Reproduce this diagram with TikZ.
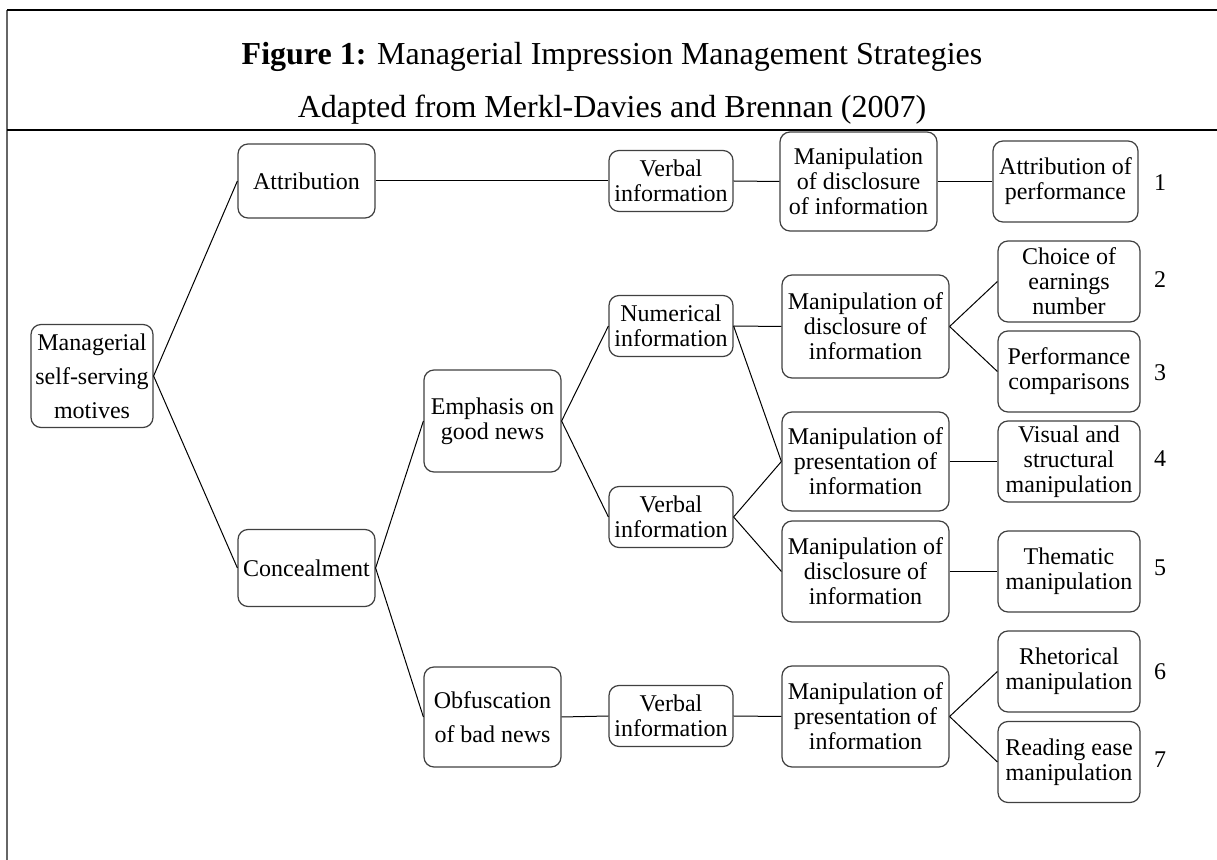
\documentclass[tikz,border=0pt]{standalone}
\usepackage{fontspec}
\setmainfont{Liberation Serif}
\begin{document}
\begin{tikzpicture}[x=0.5pt,y=-0.5pt,
  box/.style={draw=black!75, rounded corners=5pt, line width=0.6pt, align=center,
    inner sep=0pt, font=\fontsize{12}{12.5}\selectfont},
  wide/.style={box, font=\fontsize{12}{17}\selectfont},
  conn/.style={draw=black, line width=0.5pt},
  num/.style={font=\fontsize{12}{12.5}\selectfont, inner sep=0pt},
  frame/.style={line width=1pt}]
\useasboundingbox (0,0) rectangle (1217,860);
% frame
\draw[frame, draw=black!60] (7,10) -- (7,860);
\draw[frame] (7,10) -- (1217,10);
\draw[frame] (7,130) -- (1217,130);
\node[anchor=base, inner sep=0pt, font=\fontsize{16}{18}\selectfont] (t1) at (612,65) {\textbf{Figure 1:} Managerial Impression Management Strategies};
\node[anchor=base, inner sep=0pt, font=\fontsize{16}{18}\selectfont] (t2) at (612,118) {Adapted from Merkl-Davies and Brennan (2007)};
% column 1-3
\node[wide, minimum width=61pt, minimum height=51.5pt] (msm) at (92,376) {Managerial\\self-serving\\motives};
\node[box, minimum width=68.5pt, minimum height=37pt] (att) at (306.5,181) {Attribution};
\node[box, minimum width=68.5pt, minimum height=38.5pt] (con) at (306.5,568) {Concealment};
\node[box, minimum width=68.5pt, minimum height=51pt] (emp) at (492.5,421) {Emphasis on\\good news};
\node[wide, minimum width=68.5pt, minimum height=50pt] (obf) at (492.5,717) {Obfuscation\\of bad news};
% column 4
\node[box, minimum width=62pt, minimum height=30.5pt] (vb1) at (671,181) {Verbal\\information};
\node[box, minimum width=62pt, minimum height=30.5pt] (nui) at (671,326) {Numerical\\information};
\node[box, minimum width=62pt, minimum height=30.5pt] (vb2) at (671,517) {Verbal\\information};
\node[box, minimum width=62pt, minimum height=30.5pt] (vb3) at (671,716) {Verbal\\information};
% column 5
\node[box, minimum width=78.5pt, minimum height=49.5pt] (md1) at (858.5,181.5) {Manipulation\\of disclosure\\of information};
\node[box, minimum width=83.5pt, minimum height=51.5pt] (md2) at (865.5,326.5) {Manipulation of\\disclosure of\\information};
\node[box, minimum width=83.5pt, minimum height=49.5pt] (mp1) at (865.5,461.5) {Manipulation of\\presentation of\\information};
\node[box, minimum width=83.5pt, minimum height=50.5pt] (md3) at (865.5,571.5) {Manipulation of\\disclosure of\\information};
\node[box, minimum width=83.5pt, minimum height=50.5pt] (mp2) at (865.5,716.5) {Manipulation of\\presentation of\\information};
% column 6
\node[box, minimum width=72.5pt, minimum height=40.5pt] (apf) at (1065.5,181.5) {Attribution of\\performance};
\node[box, minimum width=71pt, minimum height=40.5pt] (cen) at (1069,281.5) {Choice of\\earnings\\number};
\node[box, minimum width=71pt, minimum height=40.5pt] (pco) at (1069,371.5) {Performance\\comparisons};
\node[box, minimum width=71pt, minimum height=40.5pt] (vsm) at (1069,461.5) {Visual and\\structural\\manipulation};
\node[box, minimum width=71pt, minimum height=40.5pt] (thm) at (1069,571.5) {Thematic\\manipulation};
\node[box, minimum width=71pt, minimum height=40.5pt] (rhm) at (1069,671.5) {Rhetorical\\manipulation};
\node[box, minimum width=71pt, minimum height=40.5pt] (rem) at (1069,762) {Reading ease\\manipulation};
% numbers
\node[num] (n1) at (1160,183) {1};
\node[num] (n2) at (1160,280) {2};
\node[num] (n3) at (1160,373) {3};
\node[num] (n4) at (1160,459) {4};
\node[num] (n5) at (1160,568) {5};
\node[num] (n6) at (1160,672) {6};
\node[num] (n7) at (1160,760) {7};
% connectors
\draw[conn] (msm.east) -- (att.west);
\draw[conn] (msm.east) -- (con.west);
\draw[conn] (att.east) -- (vb1.west);
\draw[conn] (vb1.east) -- (md1.west);
\draw[conn] (md1.east) -- (apf.west);
\draw[conn] (con.east) -- (emp.west);
\draw[conn] (con.east) -- (obf.west);
\draw[conn] (emp.east) -- (nui.west);
\draw[conn] (emp.east) -- (vb2.west);
\draw[conn] (nui.east) -- (md2.west);
\draw[conn] (nui.east) -- (mp1.west);
\draw[conn] (vb2.east) -- (mp1.west);
\draw[conn] (vb2.east) -- (md3.west);
\draw[conn] (md2.east) -- (cen.west);
\draw[conn] (md2.east) -- (pco.west);
\draw[conn] (mp1.east) -- (vsm.west);
\draw[conn] (md3.east) -- (thm.west);
\draw[conn] (obf.east) -- (vb3.west);
\draw[conn] (vb3.east) -- (mp2.west);
\draw[conn] (mp2.east) -- (rhm.west);
\draw[conn] (mp2.east) -- (rem.west);
\end{tikzpicture}
\end{document}
